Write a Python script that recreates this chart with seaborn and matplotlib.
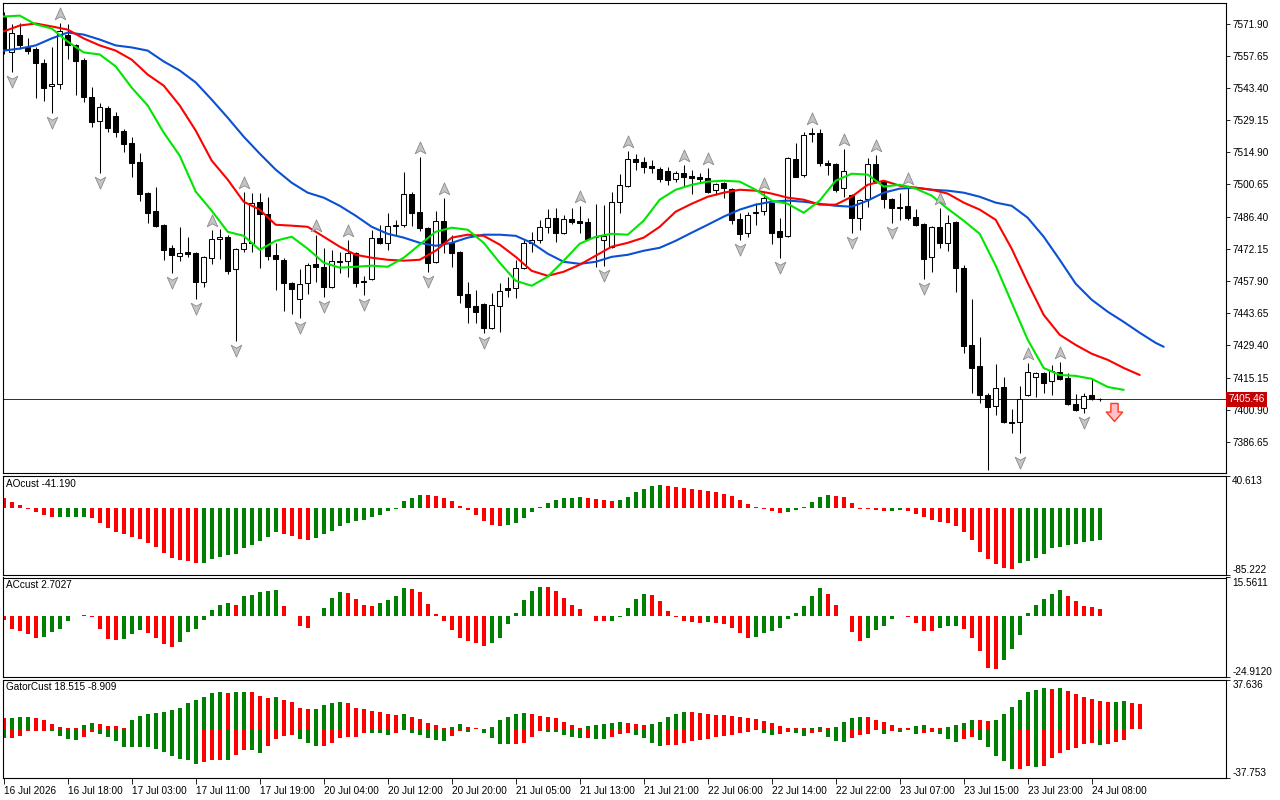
import numpy as np
import pandas as pd
import matplotlib
matplotlib.use("Agg")
import matplotlib.pyplot as plt
import seaborn as sns
from matplotlib.path import Path
from matplotlib.transforms import offset_copy

# ---------------------------------------------------------------- data
date_labels = ["16 Jul 2026", "16 Jul 18:00", "17 Jul 03:00", "17 Jul 11:00", "17 Jul 19:00",
               "20 Jul 04:00", "20 Jul 12:00", "20 Jul 20:00", "21 Jul 05:00", "21 Jul 13:00",
               "21 Jul 21:00", "22 Jul 06:00", "22 Jul 14:00", "22 Jul 22:00", "23 Jul 07:00",
               "23 Jul 15:00", "23 Jul 23:00", "24 Jul 08:00"]
date_bars = [0, 8, 16, 24, 32, 40, 48, 56, 64, 72, 80, 88, 96, 104, 112, 120, 128, 136]

price_ticks = [7571.90, 7557.65, 7543.40, 7529.15, 7514.90, 7500.65, 7486.40,
               7472.15, 7457.90, 7443.65, 7429.40, 7415.15, 7400.90, 7386.65]
last_price = 7405.46

opens = [7575.0, 7559.5, 7567.0, 7561.7, 7560.8, 7554.6, 7544.4, 7545.3, 7567.0, 7562.6,
         7555.9, 7539.5, 7528.9, 7534.7, 7531.1, 7524.5, 7519.2, 7510.7, 7497.0, 7489.0,
         7482.8, 7472.6, 7469.1, 7470.8, 7470.4, 7457.6, 7468.2, 7476.6, 7477.5, 7463.3,
         7472.2, 7474.8, 7493.0, 7487.7, 7469.5, 7467.3, 7457.1, 7450.0, 7457.1, 7465.5,
         7464.2, 7455.3, 7466.9, 7466.9, 7470.4, 7458.0, 7458.9, 7477.1, 7474.9, 7482.4,
         7482.8, 7496.6, 7488.6, 7481.5, 7466.4, 7484.6, 7474.9, 7470.8, 7452.2, 7446.9,
         7447.8, 7437.2, 7446.9, 7454.9, 7454.9, 7463.8, 7474.9, 7476.2, 7481.9, 7485.9,
         7479.3, 7485.5, 7484.6, 7484.1, 7477.5, 7476.2, 7473.1, 7493.0, 7500.1, 7512.1,
         7510.7, 7509.0, 7507.6, 7506.8, 7503.2, 7505.9, 7504.5, 7504.1, 7503.6, 7498.3,
         7501.4, 7498.8, 7485.5, 7479.3, 7488.1, 7489.0, 7492.6, 7480.2, 7477.9, 7512.1,
         7505.0, 7523.6, 7523.6, 7510.3, 7509.9, 7499.2, 7496.1, 7485.9, 7494.3, 7509.9,
         7502.3, 7494.3, 7490.8, 7491.2, 7486.4, 7483.3, 7468.6, 7481.9, 7474.9, 7484.1,
         7463.8, 7429.6, 7420.3, 7407.5, 7402.6, 7411.0, 7395.5, 7395.5, 7407.5, 7415.4,
         7417.2, 7413.7, 7417.7, 7415.0, 7403.5, 7401.7, 7407.5, 7405.7]
highs = [7577.2, 7571.5, 7572.3, 7565.3, 7561.3, 7556.4, 7561.7, 7572.3, 7571.5, 7563.0,
         7556.5, 7544.0, 7536.9, 7535.2, 7532.9, 7525.4, 7521.8, 7514.7, 7497.4, 7499.7,
         7483.3, 7474.0, 7481.9, 7477.5, 7470.8, 7469.1, 7480.6, 7481.0, 7478.4, 7472.6,
         7497.4, 7497.0, 7497.0, 7495.2, 7474.9, 7468.2, 7457.5, 7463.3, 7466.0, 7478.4,
         7472.6, 7471.7, 7470.8, 7476.2, 7470.8, 7460.2, 7480.6, 7482.8, 7488.1, 7485.0,
         7506.3, 7497.2, 7513.0, 7481.9, 7489.0, 7494.8, 7478.4, 7471.2, 7457.6, 7454.0,
         7448.2, 7452.7, 7457.1, 7459.8, 7467.3, 7476.2, 7479.7, 7485.0, 7489.9, 7490.3,
         7487.2, 7490.3, 7491.2, 7485.9, 7492.1, 7491.7, 7497.4, 7505.4, 7515.6, 7514.3,
         7513.0, 7511.6, 7508.5, 7508.5, 7506.8, 7509.4, 7507.2, 7505.9, 7508.1, 7501.4,
         7501.8, 7499.2, 7488.1, 7488.6, 7492.6, 7497.0, 7493.0, 7485.9, 7513.0, 7519.2,
         7524.0, 7525.8, 7525.4, 7511.6, 7510.3, 7516.5, 7496.6, 7494.3, 7512.5, 7513.9,
         7502.8, 7494.8, 7497.0, 7499.2, 7489.9, 7483.7, 7482.4, 7490.4, 7487.2, 7484.5,
         7465.1, 7450.0, 7433.2, 7408.4, 7421.2, 7415.4, 7401.3, 7411.5, 7421.7, 7417.7,
         7417.7, 7420.8, 7422.1, 7417.2, 7407.9, 7408.4, 7414.6, 7406.2]
lows = [7558.2, 7550.6, 7560.8, 7558.2, 7538.7, 7537.8, 7532.5, 7542.7, 7556.0, 7540.4,
        7537.3, 7526.3, 7505.9, 7524.0, 7521.8, 7515.2, 7504.1, 7493.5, 7483.7, 7482.0,
        7467.3, 7461.5, 7466.9, 7468.6, 7450.0, 7455.3, 7465.5, 7467.8, 7461.1, 7431.4,
        7470.8, 7470.8, 7463.8, 7467.3, 7454.0, 7444.7, 7443.4, 7441.6, 7452.2, 7457.6,
        7450.9, 7454.9, 7461.5, 7459.8, 7455.3, 7451.8, 7458.4, 7474.5, 7471.7, 7478.4,
        7481.9, 7482.4, 7480.2, 7462.0, 7465.8, 7470.4, 7464.2, 7448.2, 7439.4, 7439.4,
        7434.9, 7436.8, 7435.4, 7450.9, 7450.5, 7463.3, 7470.8, 7474.9, 7479.3, 7475.3,
        7478.9, 7483.3, 7479.3, 7476.2, 7464.2, 7464.6, 7472.6, 7488.1, 7499.7, 7507.2,
        7505.9, 7505.9, 7501.9, 7500.5, 7501.9, 7500.1, 7496.6, 7501.4, 7497.0, 7496.1,
        7494.8, 7483.3, 7476.2, 7477.5, 7482.8, 7487.2, 7474.4, 7468.2, 7477.4, 7503.9,
        7504.1, 7519.6, 7509.0, 7505.0, 7497.4, 7495.2, 7479.3, 7480.6, 7490.8, 7501.4,
        7490.3, 7483.7, 7485.0, 7485.0, 7482.4, 7458.9, 7462.0, 7472.6, 7471.3, 7453.1,
        7426.1, 7408.4, 7403.9, 7374.2, 7398.6, 7395.1, 7390.6, 7381.8, 7407.0, 7406.6,
        7408.4, 7407.5, 7414.1, 7403.0, 7400.4, 7399.5, 7405.3, 7404.9]
closes = [7560.4, 7567.9, 7562.2, 7559.9, 7554.6, 7543.5, 7545.3, 7568.4, 7562.2, 7555.1,
          7539.5, 7528.5, 7535.1, 7525.8, 7524.0, 7518.7, 7510.3, 7496.6, 7488.1, 7482.4,
          7471.7, 7469.5, 7470.4, 7470.0, 7457.6, 7468.6, 7476.6, 7477.5, 7462.4, 7472.2,
          7474.8, 7492.6, 7487.7, 7469.1, 7467.8, 7457.1, 7454.5, 7456.7, 7465.1, 7464.2,
          7455.3, 7466.9, 7466.4, 7470.4, 7457.1, 7457.6, 7477.1, 7474.9, 7482.4, 7482.8,
          7496.6, 7488.1, 7481.5, 7466.0, 7484.6, 7474.9, 7470.4, 7451.8, 7446.5, 7444.2,
          7437.2, 7447.4, 7453.6, 7454.0, 7463.8, 7474.9, 7476.2, 7481.9, 7485.9, 7479.3,
          7485.5, 7484.1, 7483.7, 7476.6, 7477.3, 7477.9, 7493.0, 7500.5, 7512.1, 7510.7,
          7508.5, 7508.1, 7503.2, 7502.8, 7505.9, 7504.1, 7503.6, 7503.2, 7497.4, 7501.0,
          7499.2, 7485.0, 7478.8, 7487.2, 7488.6, 7494.8, 7479.3, 7477.5, 7512.5, 7504.1,
          7522.7, 7523.2, 7510.3, 7509.4, 7498.3, 7506.8, 7485.9, 7493.9, 7509.9, 7502.3,
          7494.3, 7490.3, 7490.3, 7485.9, 7482.8, 7467.8, 7481.9, 7474.9, 7483.7, 7463.8,
          7429.2, 7419.4, 7407.5, 7402.2, 7410.6, 7395.5, 7395.1, 7405.7, 7417.7, 7417.2,
          7412.8, 7418.1, 7414.6, 7403.5, 7400.8, 7407.0, 7405.7, 7405.46]

# Alligator lines (read every second bar; shifted into the future)
jaw_bars = list(range(0, 145, 2)) + [145]
jaw = [7559.9, 7560.8, 7562.2, 7565.3, 7567.9, 7567.0, 7564.8, 7562.2, 7561.3, 7559.9,
       7555.1, 7551.1, 7545.8, 7538.2, 7530.2, 7521.8, 7514.3, 7507.2, 7501.4, 7497.0,
       7494.8, 7491.2, 7486.8, 7481.9, 7478.8, 7477.1, 7474.8, 7473.5, 7474.8, 7477.1,
       7478.4, 7478.4, 7477.9, 7474.8, 7470.0, 7466.4, 7465.5, 7466.4, 7468.6, 7469.5,
       7471.3, 7472.6, 7475.7, 7479.3, 7482.8, 7486.4, 7489.5, 7491.7, 7493.0, 7493.5,
       7493.0, 7492.1, 7491.2, 7490.8, 7493.5, 7497.0, 7498.8, 7499.2, 7498.3, 7497.9,
       7497.0, 7495.2, 7492.6, 7491.2, 7485.9, 7477.5, 7467.3, 7456.7, 7449.6, 7444.3,
       7439.8, 7435.0, 7430.5, 7428.8]
teeth_bars = list(range(0, 143, 2))
teeth = [7568.4, 7571.0, 7571.9, 7570.6, 7569.2, 7565.3, 7562.2, 7559.9, 7555.9, 7549.3,
         7544.4, 7535.6, 7524.5, 7511.2, 7502.8, 7493.0, 7489.5, 7482.8, 7482.4, 7481.9,
         7477.5, 7473.1, 7469.5, 7468.2, 7467.3, 7466.9, 7467.3, 7471.3, 7477.1, 7478.4,
         7477.9, 7474.0, 7468.6, 7462.4, 7460.2, 7462.0, 7465.1, 7469.1, 7473.1, 7474.8,
         7477.1, 7481.9, 7488.6, 7492.1, 7495.2, 7497.0, 7498.3, 7497.9, 7496.6, 7494.8,
         7493.9, 7491.7, 7491.7, 7495.2, 7500.5, 7502.3, 7500.1, 7499.2, 7498.3, 7496.6,
         7492.6, 7489.5, 7485.0, 7472.2, 7457.1, 7442.9, 7434.1, 7429.6, 7425.7, 7423.0,
         7419.4, 7416.3]
lips_bars = list(range(0, 141, 2))
lips = [7575.0, 7575.4, 7571.5, 7569.7, 7563.9, 7559.1, 7558.2, 7552.9, 7543.5, 7535.6,
        7523.6, 7513.4, 7497.5, 7489.0, 7479.7, 7477.9, 7471.7, 7475.7, 7477.5, 7472.2,
        7466.0, 7463.8, 7464.2, 7464.7, 7464.2, 7468.2, 7474.0, 7479.7, 7481.5, 7480.6,
        7474.8, 7466.0, 7458.0, 7455.8, 7459.8, 7466.9, 7474.4, 7477.5, 7478.8, 7478.4,
        7484.6, 7493.9, 7498.3, 7500.5, 7501.9, 7502.3, 7501.9, 7498.3, 7493.5, 7492.1,
        7488.1, 7493.5, 7502.3, 7505.4, 7505.0, 7499.7, 7500.5, 7498.8, 7495.7, 7489.9,
        7484.6, 7478.8, 7464.7, 7448.3, 7431.9, 7419.4, 7416.3, 7415.9, 7414.6, 7411.0,
        7409.7]

fractal_up_bars = [7, 26, 30, 39, 43, 52, 55, 72, 78, 85, 88, 95, 101, 105, 109, 113, 117, 128, 132]
fractal_down_bars = [1, 6, 12, 21, 24, 29, 37, 40, 45, 53, 60, 75, 92, 97, 106, 111, 115, 123, 127, 135]
signal_bar = [138.75]
signal_price = [7399.9]

ao = [12.1, 7.4, 3.9, -0.9, -5.2, -9.1, -12.0, -11.8, -11.6, -11.5,
      -11.4, -13.0, -19.5, -25.9, -30.3, -33.7, -36.8, -38.9, -44.1, -49.7,
      -57.1, -63.6, -66.2, -67.5, -70.3, -70.0, -64.9, -62.3, -59.7, -58.4,
      -51.0, -46.7, -41.9, -36.8, -30.3, -32.9, -35.5, -38.9, -40.2, -37.6,
      -33.7, -29.0, -22.5, -18.6, -16.9, -15.6, -12.1, -8.6, -4.3, -1.3,
      8.6, 13.0, 16.4, 16.0, 15.1, 12.5, 8.6, 2.2, -2.6, -9.1,
      -16.4, -21.6, -22.9, -22.1, -18.6, -13.0, -5.2, 1.3, 6.1, 9.9,
      12.5, 12.6, 13.8, 12.5, 11.2, 9.9, 8.6, 9.9, 13.8, 20.3,
      24.2, 28.1, 29.4, 28.1, 26.8, 25.5, 24.2, 22.9, 21.6, 20.3,
      17.7, 15.1, 9.9, 4.8, 0.9, -0.9, -4.3, -6.5, -5.2, -3.0,
      0.9, 7.4, 13.8, 16.4, 15.1, 13.8, 6.1, -0.9, -1.0, -3.0,
      -3.9, -3.5, -3.0, -3.9, -7.8, -11.7, -15.1, -18.2, -19.5, -22.9,
      -30.3, -40.2, -56.2, -64.9, -71.3, -75.7, -77.0, -70.0, -67.5, -64.0,
      -58.4, -50.6, -49.3, -46.7, -45.4, -43.6, -42.4, -41.19]
ac = [-1.8, -5.2, -6.3, -7.6, -8.9, -8.5, -6.8, -5.2, -2.3, -0.1,
      0.2, -0.7, -5.5, -9.3, -9.7, -9.3, -7.6, -5.6, -7.2, -8.9,
      -11.3, -12.9, -10.5, -6.8, -5.2, -1.9, 2.5, 4.5, 5.3, 4.5,
      8.2, 8.6, 9.8, 10.2, 10.3, 4.1, -0.2, -4.0, -4.8, -0.1,
      3.3, 7.4, 9.5, 9.4, 7.0, 4.5, 4.1, 5.3, 6.5, 8.2,
      11.4, 10.9, 9.8, 4.9, 0.8, -2.2, -5.6, -8.9, -10.1, -10.9,
      -12.5, -10.9, -8.9, -3.5, 1.2, 6.5, 10.2, 11.9, 11.8, 10.2,
      7.4, 4.5, 2.9, -0.1, -2.0, -2.3, -2.2, -0.7, 3.3, 7.0,
      9.0, 8.6, 6.1, 2.0, -0.7, -2.3, -2.7, -2.8, -2.7, -2.8,
      -3.5, -4.8, -7.2, -8.9, -8.5, -7.2, -6.4, -4.8, -1.5, 1.2,
      4.1, 8.2, 11.4, 9.0, 4.5, -0.2, -6.8, -10.1, -8.9, -5.6,
      -4.0, -1.5, -0.2, -0.5, -3.1, -6.0, -6.4, -4.8, -4.3, -4.0,
      -5.2, -8.9, -14.2, -21.1, -21.5, -17.9, -13.4, -8.0, 1.2, 4.5,
      7.0, 9.0, 10.6, 8.2, 6.1, 4.1, 3.7, 2.7027]
gator_up = [8.1, 8.2, 8.6, 8.7, 7.9, 6.6, 3.3, 1.0, 0.5, 0.2,
            2.5, 4.1, 3.3, 1.8, 1.7, 0.3, 6.6, 9.4, 10.9, 11.7,
            12.7, 14.2, 16.0, 19.3, 21.6, 24.6, 27.2, 27.7, 27.6, 27.9,
            28.4, 27.9, 24.9, 23.3, 24.6, 22.3, 20.3, 16.0, 15.0, 15.2,
            17.8, 20.0, 20.1, 19.3, 16.2, 14.7, 13.2, 12.4, 10.9, 10.4,
            10.9, 8.9, 7.4, 4.3, 2.5, 0.3, 1.0, 3.3, 1.0, 0.2,
            0.1, 1.3, 6.6, 8.6, 10.9, 11.7, 11.6, 9.6, 8.9, 8.4,
            5.3, 3.0, 0.3, 2.3, 3.0, 3.8, 4.6, 5.3, 4.6, 3.8,
            3.0, 3.8, 5.3, 9.1, 11.4, 12.9, 12.8, 12.2, 11.4, 10.7,
            10.6, 9.9, 9.1, 8.4, 7.6, 6.1, 4.6, 2.3, 0.8, 0.3,
            0.2, 0.3, 1.5, 0.8, 1.5, 5.3, 8.4, 9.1, 9.0, 6.9,
            5.3, 3.0, 0.8, 0.7, 2.3, 3.0, 0.8, 0.7, 1.5, 3.0,
            4.6, 6.9, 6.8, 6.1, 6.9, 11.4, 16.8, 22.1, 28.2, 29.7,
            31.2, 30.5, 31.3, 29.2, 26.9, 24.6, 22.8, 21.3, 20.6, 20.7,
            21.3, 19.8, 18.515]
gator_down = [7.1, 7.0, 5.6, 1.8, 1.7, 1.6, 1.8, 5.6, 7.6, 8.6,
              6.3, 2.5, 4.1, 6.3, 9.4, 14.0, 14.1, 14.2, 14.3, 15.5,
              17.8, 21.1, 23.1, 23.9, 26.9, 25.4, 23.9, 23.8, 23.9, 20.3,
              16.2, 16.3, 18.5, 13.2, 7.9, 5.3, 5.2, 7.9, 10.9, 13.2,
              13.1, 10.9, 7.1, 6.3, 6.2, 3.0, 3.3, 3.4, 4.8, 3.0,
              1.0, 3.3, 4.8, 7.1, 8.6, 9.4, 5.6, 1.8, 2.5, 0.5,
              3.3, 7.1, 11.4, 11.7, 11.6, 10.9, 6.3, 1.8, 2.2, 2.3,
              4.6, 6.1, 6.9, 6.8, 7.6, 7.7, 6.1, 3.8, 3.0, 4.6,
              6.9, 10.7, 12.9, 12.8, 12.2, 10.7, 9.1, 8.4, 7.6, 6.1,
              5.3, 4.6, 3.0, 2.3, 1.0, 3.0, 4.6, 3.8, 2.3, 3.0,
              5.3, 3.0, 2.3, 6.1, 9.1, 9.9, 6.9, 4.6, 3.8, 0.8,
              3.8, 1.5, 2.3, 0.8, 3.8, 3.0, 2.8, 3.8, 7.6, 9.9,
              7.6, 6.1, 8.4, 13.7, 20.6, 25.1, 31.0, 30.7, 28.4, 29.2,
              28.4, 22.8, 18.3, 16.0, 14.5, 11.4, 10.7, 12.2, 12.1, 9.9,
              8.909]

ao_range = (-85.222, 40.613)
ac_range = (-24.9120, 15.5611)
gator_range = (-37.753, 37.636)

# ---------------------------------------------------------------- style
sns.set_theme(style="white")
plt.rcParams["font.family"] = ["Liberation Sans", "DejaVu Sans"]
FS = 7.2
GREEN, RED = "#008000", "#ff0000"

fig = plt.figure(figsize=(12.8, 8), dpi=100)
fig.patch.set_facecolor("white")
W, H = 1280.0, 800.0


def box(x0, y0, x1, y1):
    return [x0 / W, 1 - y1 / H, (x1 - x0) / W, (y1 - y0) / H]


ax = fig.add_axes(box(2.5, 2.5, 1226, 473))
ax_ao = fig.add_axes(box(2.5, 476, 1226, 575), sharex=ax)
ax_ac = fig.add_axes(box(2.5, 577.5, 1226, 677), sharex=ax)
ax_gt = fig.add_axes(box(2.5, 679.5, 1226, 778), sharex=ax)
all_axes = [ax, ax_ao, ax_ac, ax_gt]

for a in all_axes:
    a.set_facecolor("white")
    a.grid(False)
    for s in a.spines.values():
        s.set_visible(True)
        s.set_color("black")
        s.set_linewidth(0.8)
    a.yaxis.tick_right()
    a.tick_params(axis="y", which="both", left=False, right=True, labelleft=False,
                  labelright=True, direction="out", length=3, width=0.6, pad=1.5,
                  labelsize=FS, colors="black")
    a.tick_params(axis="x", bottom=False, labelbottom=False, top=False)

# ---------------------------------------------------------------- main pane
df = pd.DataFrame({"bar": np.arange(len(opens)), "open": opens, "high": highs,
                   "low": lows, "close": closes})
bull = df["close"] >= df["open"]
ax.axhline(last_price, color="#a00000", lw=0.7, zorder=1)
ax.vlines(df["bar"], df["low"], df["high"], color="black", lw=0.75, zorder=2)
body = (df["close"] - df["open"]).abs().clip(lower=0.12)
ax.bar(df["bar"], body, bottom=np.minimum(df["open"], df["close"]), width=0.6,
       color=np.where(bull, "white", "black"), edgecolor="black", linewidth=0.75, zorder=3)

sns.lineplot(x=jaw_bars, y=jaw, ax=ax, color="#0a50d2", linewidth=1.5, zorder=5,
             estimator=None, legend=False)
sns.lineplot(x=teeth_bars, y=teeth, ax=ax, color="#ff0000", linewidth=1.5, zorder=5,
             estimator=None, legend=False)
sns.lineplot(x=lips_bars, y=lips, ax=ax, color="#00e600", linewidth=1.5, zorder=5,
             estimator=None, legend=False)

# fractal arrowheads
up_head = Path([(0, 1), (0.8, -0.8), (0, -0.35), (-0.8, -0.8), (0, 1)],
               [Path.MOVETO, Path.LINETO, Path.LINETO, Path.LINETO, Path.CLOSEPOLY])
down_head = Path([(0, -1), (0.8, 0.8), (0, 0.35), (-0.8, 0.8), (0, -1)],
                 [Path.MOVETO, Path.LINETO, Path.LINETO, Path.LINETO, Path.CLOSEPOLY])
up_tr = offset_copy(ax.transData, fig=fig, x=0, y=9, units="dots")
dn_tr = offset_copy(ax.transData, fig=fig, x=0, y=-9, units="dots")
ax.plot(fractal_up_bars, df.loc[fractal_up_bars, "high"], ls="none", marker=up_head,
        ms=9.5, mfc="#c4c4c4", mec="#8a8a8a", mew=0.6, transform=up_tr, zorder=6)
ax.plot(fractal_down_bars, df.loc[fractal_down_bars, "low"], ls="none", marker=down_head,
        ms=9.5, mfc="#c4c4c4", mec="#8a8a8a", mew=0.6, transform=dn_tr, zorder=6)

# sell signal arrow
block_down = Path([(-0.4, 1), (0.4, 1), (0.4, 0.05), (0.9, 0.05), (0, -1), (-0.9, 0.05),
                   (-0.4, 0.05), (-0.4, 1)],
                  [Path.MOVETO] + [Path.LINETO] * 6 + [Path.CLOSEPOLY])
ax.plot(signal_bar, signal_price, ls="none", marker=block_down, ms=13,
        mfc="#ffc0cc", mec="#ff3a1a", mew=1.0, zorder=6)

xlim = (-0.15, -0.15 + (1226 - 2.5) / 8.0)
ax.set_xlim(*xlim)
ax.set_ylim(7372.9, 7581.2)
ax.set_yticks(price_ticks, labels=[f"{v:.2f}" for v in price_ticks])
ax.text(1.0022, last_price, f"{last_price:.2f}", transform=ax.get_yaxis_transform(),
        ha="left", va="center", color="white", fontsize=FS, zorder=10,
        bbox=dict(boxstyle="square,pad=0.22", fc="#c40000", ec="none"))

# ---------------------------------------------------------------- histogram panes
def colours(values, first_ref):
    v = np.asarray(values, dtype=float)
    prev = np.concatenate([[first_ref], v[:-1]])
    return np.where(v > prev, GREEN, RED)


def side_scale(a, rng, lo_txt, hi_txt):
    a.set_ylim(*rng)
    a.set_yticks([rng[1], rng[0]], labels=[hi_txt, lo_txt])
    for lab in a.get_yticklabels():
        lab.set_va("top" if lab.get_text() == hi_txt else "bottom")


ao_bars = np.arange(len(ao))
ax_ao.bar(ao_bars, ao, width=0.55, color=colours(ao, np.inf), linewidth=0)
side_scale(ax_ao, ao_range, "-85.222", "40.613")
ax_ao.text(0.003, 0.92, f"AOcust {ao[-1]:.3f}", transform=ax_ao.transAxes,
           ha="left", va="center", fontsize=FS, color="black")

ac_bars = np.arange(len(ac))
ax_ac.bar(ac_bars, ac, width=0.55, color=colours(ac, np.inf), linewidth=0)
side_scale(ax_ac, ac_range, "-24.9120", "15.5611")
ax_ac.text(0.003, 0.92, f"ACcust {ac[-1]:.4f}", transform=ax_ac.transAxes,
           ha="left", va="center", fontsize=FS, color="black")

gu = np.asarray(gator_up)
gd = np.asarray(gator_down)
ax_gt.bar(np.arange(len(gu)), gu, width=0.55, color=colours(gu, np.inf), linewidth=0)
ax_gt.bar(np.arange(len(gd)), -gd, width=0.55, color=colours(gd, 0.0), linewidth=0)
side_scale(ax_gt, gator_range, "-37.753", "37.636")
ax_gt.text(0.003, 0.92, f"GatorCust {gu[-1]:.3f} {-gd[-1]:.3f}", transform=ax_gt.transAxes,
           ha="left", va="center", fontsize=FS, color="black")

ax_gt.set_xticks(date_bars, labels=date_labels)
ax_gt.tick_params(axis="x", bottom=True, labelbottom=True, direction="out", length=4,
                  width=0.6, pad=2, labelsize=FS, colors="black")
for lab in ax_gt.get_xticklabels():
    lab.set_ha("left")
ax_gt.set_xlim(*xlim)

fig.savefig("out.png", dpi=100, facecolor="white")
